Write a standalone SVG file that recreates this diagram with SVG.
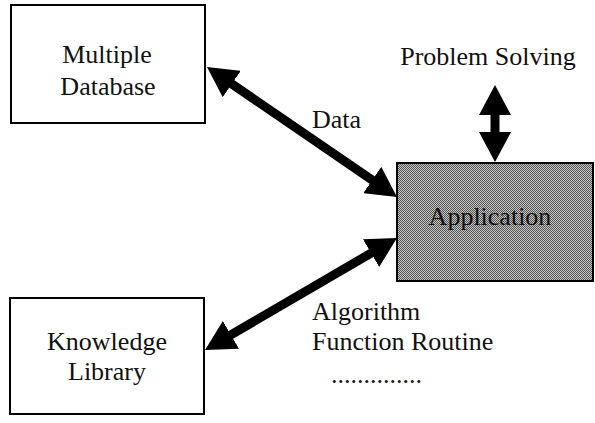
<svg xmlns="http://www.w3.org/2000/svg" width="595" height="423" viewBox="0 0 595 423">
<style>
.box{fill:#fff;stroke:#000;stroke-width:2}
.t{font-family:"Liberation Serif","Times New Roman",serif;font-size:26px;fill:#111}
.c{text-anchor:middle}
.arr{stroke:#000;stroke-width:9;fill:none;marker-start:url(#head);marker-end:url(#head)}
</style>
<defs>
<marker id="head" viewBox="0 -16 30 32" markerWidth="30" markerHeight="32" markerUnits="userSpaceOnUse" refX="10" refY="0" orient="auto-start-reverse">
<path d="M0,-16 L30,0 L0,16 z" fill="#000"/>
</marker>
<pattern id="hatch" width="2" height="2" patternUnits="userSpaceOnUse">
<rect width="2" height="2" fill="#c4c4c4"/>
<rect width="1" height="1" fill="#555"/>
<rect x="1" y="1" width="1" height="1" fill="#555"/>
</pattern>
</defs>
<g id="multiple-database">
<rect class="box" x="11" y="5" width="194" height="118"/>
<text class="t c" x="107" y="63">Multiple</text>
<text class="t c" x="108" y="95">Database</text>
</g>
<g id="knowledge-library">
<rect class="box" x="10" y="298" width="194" height="116"/>
<text class="t c" x="107" y="350">Knowledge</text>
<text class="t c" x="107" y="380">Library</text>
</g>
<g id="application">
<rect x="397" y="163" width="196" height="118" fill="url(#hatch)" stroke="#000" stroke-width="2"/>
<text class="t c" x="490" y="225" fill="#222">Application</text>
</g>
<g id="problem-solving">
<text class="t c" x="488" y="65">Problem Solving</text>
</g>
<g id="connectors">
<line class="arr" x1="223.5" y1="78.3" x2="380.5" y2="185.7"/>
<line class="arr" x1="379.7" y1="248.1" x2="222.3" y2="339.9"/>
<line class="arr" x1="495" y1="105" x2="495" y2="142"/>
</g>
<g id="labels">
<text class="t" x="312" y="128">Data</text>
<text class="t" x="312" y="320">Algorithm</text>
<text class="t" x="312" y="350">Function Routine</text>
<text class="t" x="331" y="383">..............</text>
</g>
</svg>
